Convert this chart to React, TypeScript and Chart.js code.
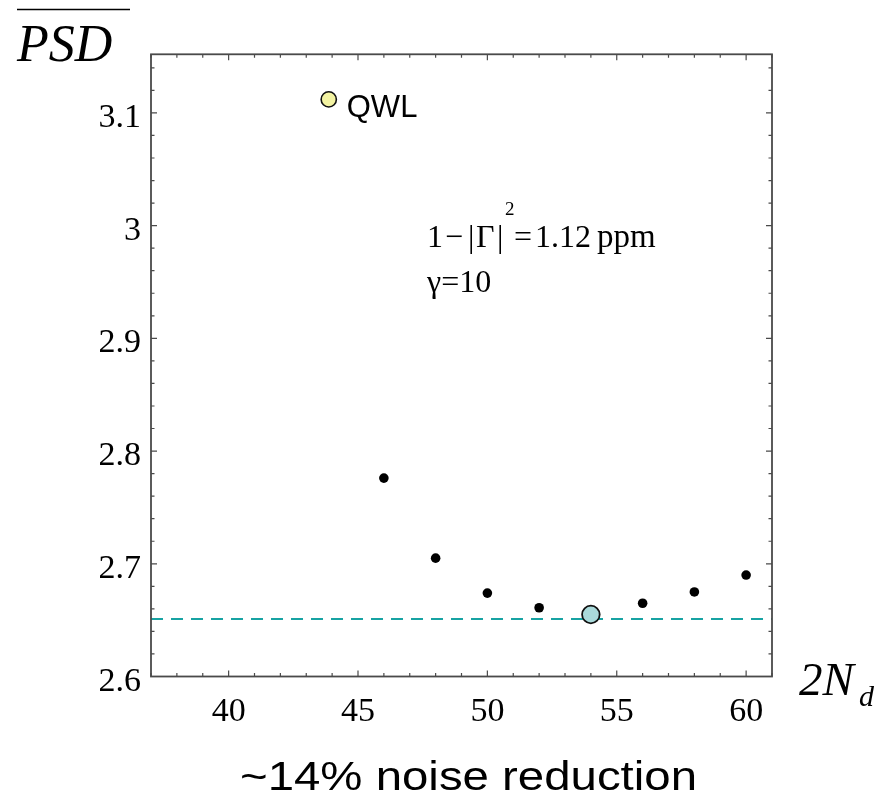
import React, { useEffect, useRef } from "react";
import { Chart, registerables } from "chart.js";

Chart.register(...registerables);

// ---- data ----
const nValues = [46, 48, 50, 52, 56, 58, 60];
const psdValues = [2.776, 2.705, 2.674, 2.661, 2.665, 2.675, 2.69];
const optimumN = [54];
const optimumPsd = [2.655];
const qwlN = [43.87];
const qwlPsd = [3.112];
const levelPsd = 2.651;

const xMin = 37;
const xMax = 61;
const yMin = 2.6;
const yMax = 3.152;

const xTickValues = [40, 45, 50, 55, 60];
const xTickLabels = ["40", "45", "50", "55", "60"];
const yTickValues = [2.6, 2.7, 2.8, 2.9, 3.0, 3.1];
const yTickLabels = ["2.6", "2.7", "2.8", "2.9", "3", "3.1"];
const xMinorStep = 1;
const yMinorStep = 0.02;

const SERIF = "'Liberation Serif', 'Times New Roman', serif";
const SANS = "'Liberation Sans', Arial, sans-serif";

const framePlugin = {
  id: "framePlugin",
  afterDraw(chart: any) {
    const ctx: CanvasRenderingContext2D = chart.ctx;
    const a = chart.chartArea;
    const xs = chart.scales.x;
    const ys = chart.scales.y;
    ctx.save();

    // frame
    ctx.strokeStyle = "#4a4a4a";
    ctx.lineWidth = 1.8;
    ctx.strokeRect(a.left, a.top, a.right - a.left, a.bottom - a.top);

    // ticks
    ctx.lineWidth = 1.2;
    ctx.strokeStyle = "#4a4a4a";
    for (let k = 0; ; k++) {
      const v = Math.ceil(xMin) + k * xMinorStep;
      if (v > xMax + 1e-9) break;
      const px = xs.getPixelForValue(v);
      const major = xTickValues.some((t) => Math.abs(t - v) < 1e-6);
      const len = major ? 6 : 3.5;
      ctx.beginPath();
      ctx.moveTo(px, a.bottom);
      ctx.lineTo(px, a.bottom - len);
      ctx.moveTo(px, a.top);
      ctx.lineTo(px, a.top + len);
      ctx.stroke();
    }
    for (let k = 0; ; k++) {
      const v = yMin + k * yMinorStep;
      if (v > yMax + 1e-9) break;
      const py = ys.getPixelForValue(v);
      const major = yTickValues.some((t) => Math.abs(t - v) < 1e-6);
      const len = major ? 6 : 3.5;
      ctx.beginPath();
      ctx.moveTo(a.left, py);
      ctx.lineTo(a.left + len, py);
      ctx.moveTo(a.right, py);
      ctx.lineTo(a.right - len, py);
      ctx.stroke();
    }

    // tick labels
    ctx.fillStyle = "#000";
    ctx.font = `34px ${SERIF}`;
    ctx.textBaseline = "alphabetic";
    ctx.textAlign = "center";
    xTickValues.forEach((v, i) => {
      ctx.fillText(xTickLabels[i], xs.getPixelForValue(v), a.bottom + 44);
    });
    ctx.textAlign = "right";
    yTickValues.forEach((v, i) => {
      ctx.fillText(yTickLabels[i], a.left - 10, ys.getPixelForValue(v) + 14);
    });

    // y axis title: PSD with overline
    ctx.textAlign = "left";
    ctx.font = `italic 52px ${SERIF}`;
    ctx.fillText("PSD", 17, 61);
    ctx.lineWidth = 1.6;
    ctx.strokeStyle = "#000";
    ctx.beginPath();
    ctx.moveTo(17, 9.5);
    ctx.lineTo(130, 9.5);
    ctx.stroke();

    // x axis title: 2N_d
    ctx.font = `italic 47px ${SERIF}`;
    ctx.fillText("2N", 799, 695);
    ctx.font = `italic 30px ${SERIF}`;
    ctx.fillText("d", 859, 706);

    // QWL label next to point
    const qx = xs.getPixelForValue(qwlN[0]);
    const qy = ys.getPixelForValue(qwlPsd[0]);
    ctx.font = `31px ${SANS}`;
    ctx.fillText("QWL", qx + 18, qy + 18);

    // annotation
    ctx.font = `32px ${SERIF}`;
    ctx.fillText("1", 427, 247);
    ctx.fillText("\u2212", 445, 247);
    ctx.fillText("|", 468, 247);
    ctx.fillText("\u0393", 476, 247);
    ctx.fillText("|", 497, 247);
    ctx.font = `19px ${SERIF}`;
    ctx.fillText("2", 505, 215);
    ctx.font = `32px ${SERIF}`;
    ctx.fillText("=", 514, 247);
    ctx.fillText("1.12", 535, 247);
    ctx.font = `33px ${SERIF}`;
    ctx.fillText("ppm", 597, 247);
    ctx.font = `32px ${SERIF}`;
    ctx.fillText("\u03b3=10", 427, 292);

    // bottom caption
    ctx.font = `41px ${SANS}`;
    const caption = "~14% noise reduction";
    const w = ctx.measureText(caption).width;
    const sx = 457 / w;
    ctx.translate(468.5, 790);
    ctx.scale(sx, 1);
    ctx.textAlign = "center";
    ctx.fillText(caption, 0, 0);

    ctx.restore();
  },
};

export default function App() {
  const ref = useRef<HTMLCanvasElement | null>(null);

  useEffect(() => {
    if (!ref.current) return;
    const chart = new Chart(ref.current, {
      type: "scatter",
      data: {
        datasets: [
          {
            label: "QWL",
            data: qwlN.map((x, i) => ({ x, y: qwlPsd[i] })),
            pointRadius: 7.6,
            pointBackgroundColor: "#f3f3a2",
            pointBorderColor: "#111",
            pointBorderWidth: 1.6,
          },
          {
            label: "optimum",
            data: optimumN.map((x, i) => ({ x, y: optimumPsd[i] })),
            pointRadius: 8.8,
            pointBackgroundColor: "#a9d9da",
            pointBorderColor: "#111",
            pointBorderWidth: 1.8,
          },
          {
            label: "PSD",
            data: nValues.map((x, i) => ({ x, y: psdValues[i] })),
            pointRadius: 4.8,
            pointBackgroundColor: "#000",
            pointBorderWidth: 0,
          },
          {
            label: "level",
            data: [
              { x: xMin, y: levelPsd },
              { x: xMax, y: levelPsd },
            ],
            showLine: true,
            pointRadius: 0,
            borderColor: "#18a3a3",
            borderWidth: 2,
            borderDash: [12, 8],
          },
        ],
      },
      options: {
        responsive: false,
        animation: false,
        devicePixelRatio: 1,
        layout: { padding: { left: 151, top: 54.3, right: 120, bottom: 124.5 } },
        scales: {
          x: { type: "linear", min: xMin, max: xMax, display: false },
          y: { type: "linear", min: yMin, max: yMax, display: false },
        },
        plugins: {
          legend: { display: false },
          tooltip: { enabled: false },
        },
      },
      plugins: [framePlugin],
    });
    return () => chart.destroy();
  }, []);

  return (
    <div style={{ position: "fixed", left: 0, top: 0, width: 892, height: 801, background: "#fff" }}>
      <canvas ref={ref} width={892} height={801} style={{ width: 892, height: 801 }} />
    </div>
  );
}
